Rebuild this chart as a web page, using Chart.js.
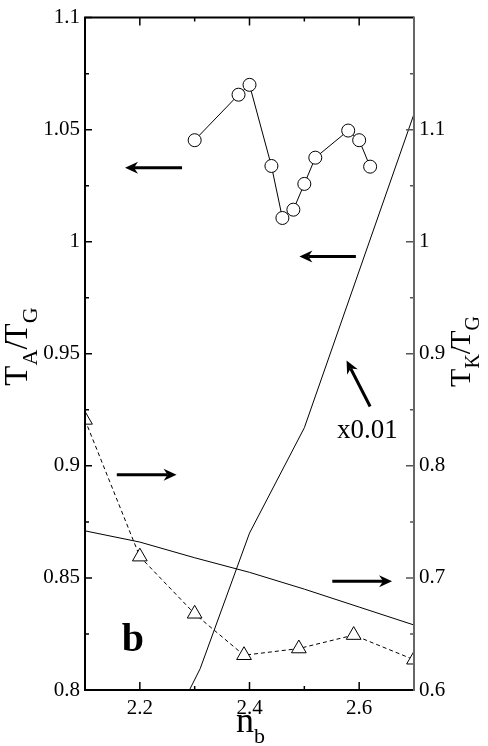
<!DOCTYPE html>
<html><head><meta charset="utf-8">
<script src="https://cdn.jsdelivr.net/npm/chart.js@4.4.0/dist/chart.umd.min.js"></script>
<style>html,body{margin:0;padding:0;background:#fff;} #wrap{width:488px;height:746px;position:relative;}</style>
</head><body><div id="wrap"><canvas id="c"></canvas></div>
<script>
// ---- data ----
const circleX = [2.30, 2.38, 2.40, 2.44, 2.46, 2.48, 2.50, 2.52, 2.58, 2.60, 2.62];
const circleY = [1.0453, 1.0656, 1.0700, 1.0338, 1.0106, 1.0143, 1.0258, 1.0375, 1.0496, 1.0453, 1.0335];
const triX = [2.10, 2.20, 2.30, 2.39, 2.49, 2.59, 2.70];
const triY = [0.841, 0.719, 0.668, 0.631, 0.637, 0.649, 0.627];
const lineX = [2.1, 2.2, 2.3, 2.4, 2.5, 2.6, 2.7];
const lineY = [0.742, 0.732, 0.718, 0.705, 0.690, 0.674, 0.658];
const steepX = [2.27, 2.31, 2.40, 2.50, 2.70];
const steepY = [0.580, 0.619, 0.740, 0.834, 1.114];
const xTicks = [2.2, 2.4, 2.6];
const xLabels = ['2.2', '2.4', '2.6'];
const xMinor = [2.3, 2.5];
const leftTicks = [0.8, 0.85, 0.9, 0.95, 1.0, 1.05, 1.1];
const leftLabels = ['0.8', '0.85', '0.9', '0.95', '1', '1.05', '1.1'];
const leftMinor = [0.825, 0.875, 0.925, 0.975, 1.025, 1.075];
const rightTicks = [0.6, 0.7, 0.8, 0.9, 1.0, 1.1];
const rightLabels = ['0.6', '0.7', '0.8', '0.9', '1', '1.1'];
const rightMinor = [0.65, 0.75, 0.85, 0.95, 1.05, 1.15];

const pts = (xs, ys) => xs.map((x, i) => ({x: x, y: ys[i]}));
const SERIF = "'Liberation Serif', 'Times New Roman', serif";

// annotation arrows (data coordinates)
const arrows = [
  {axis: 'y',  x1: 2.277, y1: 1.033, x2: 2.173, y2: 1.033},
  {axis: 'y',  x1: 2.594, y1: 0.9934, x2: 2.491, y2: 0.9934},
  {axis: 'y',  x1: 2.158, y1: 0.896, x2: 2.267, y2: 0.896},
  {axis: 'y2', x1: 2.551, y1: 0.697, x2: 2.660, y2: 0.697},
  {axis: 'y2', x1: 2.620, y1: 0.853, x2: 2.577, y2: 0.894}
];

function drawArrow(ctx, x1, y1, x2, y2) {
  const ang = Math.atan2(y2 - y1, x2 - x1);
  const len = 13, half = 6, notch = 9;
  const bx = x2 - Math.cos(ang) * notch, by = y2 - Math.sin(ang) * notch;
  ctx.save();
  ctx.strokeStyle = '#000'; ctx.fillStyle = '#000';
  ctx.lineWidth = 3;
  ctx.beginPath(); ctx.moveTo(x1, y1); ctx.lineTo(bx, by); ctx.stroke();
  const cx = x2 - Math.cos(ang) * len, cy = y2 - Math.sin(ang) * len;
  const px = -Math.sin(ang), py = Math.cos(ang);
  ctx.beginPath();
  ctx.moveTo(x2, y2);
  ctx.lineTo(cx + px * half, cy + py * half);
  ctx.lineTo(bx, by);
  ctx.lineTo(cx - px * half, cy - py * half);
  ctx.closePath(); ctx.fill();
  ctx.restore();
}

function richText(ctx, segs, x, y, angle, align) {
  ctx.save();
  ctx.translate(x, y);
  ctx.rotate(angle);
  ctx.textBaseline = 'alphabetic';
  ctx.textAlign = 'left';
  let total = 0;
  segs.forEach(s => { ctx.font = s.font; s.w = ctx.measureText(s.t).width; total += s.w + (s.kern || 0); });
  let cx = align === 'center' ? -total / 2 : 0;
  segs.forEach(s => { ctx.font = s.font; ctx.fillStyle = '#000'; ctx.fillText(s.t, cx, s.dy || 0); cx += s.w + (s.kern || 0); });
  ctx.restore();
}

const framePlugin = {
  id: 'frame',
  afterDatasetsDraw(chart) {
    const {ctx, chartArea: {left, right, top, bottom}, scales: {x, y, y2}} = chart;
    ctx.save();
    ctx.strokeStyle = '#000';
    ctx.lineWidth = 1.5;
    ctx.beginPath();
    const tick = (x1, y1, x2, y2) => { ctx.moveTo(x1, y1); ctx.lineTo(x2, y2); };
    xTicks.forEach(v => { const p = x.getPixelForValue(v); tick(p, bottom, p, bottom - 8); tick(p, top, p, top + 8); });
    xMinor.forEach(v => { const p = x.getPixelForValue(v); tick(p, bottom, p, bottom - 4); tick(p, top, p, top + 4); });
    leftTicks.forEach(v => { const p = y.getPixelForValue(v); tick(left, p, left + 7, p); });
    leftMinor.forEach(v => { const p = y.getPixelForValue(v); tick(left, p, left + 4, p); });
    ctx.stroke();
    ctx.strokeStyle = '#555';
    ctx.beginPath();
    rightTicks.forEach(v => { const p = y2.getPixelForValue(v); tick(right, p, right - 8, p); });
    rightMinor.forEach(v => { const p = y2.getPixelForValue(v); tick(right, p, right - 4, p); });
    ctx.stroke();
    // frame
    ctx.lineWidth = 2;
    ctx.strokeStyle = '#000';
    ctx.beginPath();
    ctx.moveTo(right, top); ctx.lineTo(left, top); ctx.lineTo(left, bottom); ctx.lineTo(right, bottom);
    ctx.stroke();
    ctx.strokeStyle = '#666';
    ctx.beginPath(); ctx.moveTo(right, top - 1); ctx.lineTo(right, bottom + 1); ctx.stroke();
    ctx.restore();

    // arrows
    arrows.forEach(a => {
      const ys = chart.scales[a.axis];
      drawArrow(ctx, x.getPixelForValue(a.x1), ys.getPixelForValue(a.y1), x.getPixelForValue(a.x2), ys.getPixelForValue(a.y2));
    });

    // texts
    ctx.save();
    ctx.fillStyle = '#000';
    ctx.font = 'bold 40px ' + SERIF;
    ctx.textAlign = 'center';
    ctx.textBaseline = 'alphabetic';
    ctx.fillText('b', x.getPixelForValue(2.1875), y.getPixelForValue(0.8172));
    ctx.font = '27px ' + SERIF;
    ctx.textAlign = 'left';
    ctx.fillText('x0.01', x.getPixelForValue(2.5596), y2.getPixelForValue(0.825));
    ctx.restore();

    // axis titles
    richText(ctx, [
      {t: 'T', font: '33px ' + SERIF},
      {t: 'A', font: '22px ' + SERIF, dy: 10},
      {t: '/', font: '33px ' + SERIF, kern: -3},
      {t: 'T', font: '33px ' + SERIF},
      {t: 'G', font: '22px ' + SERIF, dy: 10}
    ], 27, 346.5, -Math.PI / 2, 'center');
    richText(ctx, [
      {t: 'T', font: '30px ' + SERIF},
      {t: 'K', font: '20px ' + SERIF, dy: 9},
      {t: '/', font: '30px ' + SERIF, kern: -3},
      {t: 'T', font: '30px ' + SERIF},
      {t: 'G', font: '20px ' + SERIF, dy: 9}
    ], 470, 351.5, -Math.PI / 2, 'center');
    richText(ctx, [
      {t: 'n', font: '36px ' + SERIF},
      {t: 'b', font: '22px ' + SERIF, dy: 11}
    ], 236, 732, 0, 'left');
  }
};

const tickFont = {family: SERIF, size: 21};

function build() {
  new Chart(document.getElementById('c'), {
    type: 'scatter',
    data: {
      datasets: [
        {data: pts(circleX, circleY), yAxisID: 'y', showLine: true, borderColor: '#000', borderWidth: 1,
         pointStyle: 'circle', pointRadius: 6.5, pointBackgroundColor: '#fff', pointBorderColor: '#000', pointBorderWidth: 1},
        {data: pts(triX, triY), yAxisID: 'y2', showLine: true, borderColor: '#000', borderWidth: 1, borderDash: [4, 3],
         pointStyle: 'triangle', pointRadius: 8.5, pointBackgroundColor: '#fff', pointBorderColor: '#000', pointBorderWidth: 1},
        {data: pts(lineX, lineY), yAxisID: 'y2', showLine: true, borderColor: '#000', borderWidth: 1, pointRadius: 0},
        {data: pts(steepX, steepY), yAxisID: 'y2', showLine: true, borderColor: '#000', borderWidth: 1, pointRadius: 0}
      ]
    },
    options: {
      responsive: true,
      maintainAspectRatio: false,
      animation: false,
      events: [],
      layout: {padding: {top: 10, left: 0, right: 0, bottom: 0}, autoPadding: false},
      plugins: {legend: {display: false}, tooltip: {enabled: false}},
      scales: {
        x: {
          type: 'linear', position: 'bottom', min: 2.1, max: 2.7,
          afterBuildTicks: s => { s.ticks = xTicks.map(v => ({value: v})); },
          afterFit: s => { s.height = 56; },
          ticks: {font: tickFont, color: '#000', padding: 6, maxRotation: 0, autoSkip: false,
                  callback: (v, i) => xLabels[i]},
          grid: {display: true, drawOnChartArea: false, drawTicks: false},
          border: {display: false}
        },
        y: {
          type: 'linear', position: 'left', min: 0.8, max: 1.1,
          afterBuildTicks: s => { s.ticks = leftTicks.map(v => ({value: v})); },
          afterFit: s => { s.width = 85; },
          ticks: {font: tickFont, color: '#000', padding: 5, autoSkip: false,
                  callback: (v, i) => leftLabels[i]},
          grid: {display: true, drawOnChartArea: false, drawTicks: false},
          border: {display: false}
        },
        y2: {
          type: 'linear', position: 'right', min: 0.6, max: 1.2,
          afterBuildTicks: s => { s.ticks = rightTicks.map(v => ({value: v})); },
          afterFit: s => { s.width = 74; },
          ticks: {font: tickFont, color: '#000', padding: 5, autoSkip: false,
                  callback: (v, i) => rightLabels[i]},
          grid: {display: true, drawOnChartArea: false, drawTicks: false},
          border: {display: false}
        }
      }
    },
    plugins: [framePlugin]
  });
}

const loads = ['21px', '33px', 'bold 40px'].map(f => document.fonts.load(f + " 'Liberation Serif'").catch(() => null));
Promise.all(loads).then(build, build);
</script>
</body></html>
